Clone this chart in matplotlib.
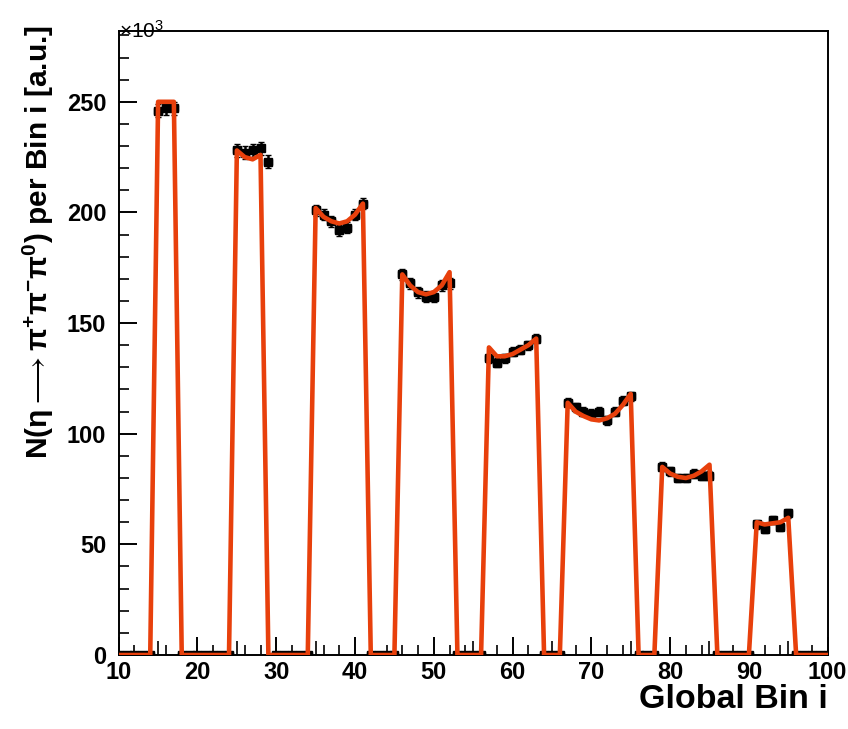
import numpy as np
import matplotlib
matplotlib.use("Agg")
from matplotlib import pyplot as plt
from matplotlib import ticker

# ---------------- data (values in units of 10^3) ----------------
bins = np.arange(10, 101)
block_start = [15, 25, 35, 46, 57, 67, 79, 91]
fit_values = [
    [250, 250, 250],
    [228, 225, 224, 226],
    [202, 198, 196, 195, 196, 199, 204],
    [172, 167, 164, 163, 164, 167, 173],
    [139, 135, 135, 136, 138, 140, 143],
    [114, 110, 108, 106.5, 106, 107, 109, 113, 118],
    [85, 82, 80.5, 80, 81, 83, 86],
    [60, 59, 59.5, 60, 62],
]
data_values = [
    [246, 247, 247],
    [228, 227, 228, 229, 223],
    [201, 199, 196, 192, 193, 199, 204],
    [172, 168, 164, 162, 162, 167, 168],
    [134, 132, 134, 137, 138, 140, 143],
    [114, 112, 110, 109, 110, 106, 110, 115, 117],
    [85, 83, 80, 80, 82, 81, 81],
    [59, 57, 61, 58, 64],
]
data_errors = [3, 3, 2.5, 2.5, 2, 2, 2, 2]

# build full histograms (zero outside the blocks)
fit = np.zeros(len(bins))
data = np.zeros(len(bins))
err = np.zeros(len(bins))
for start, fv, dv, e in zip(block_start, fit_values, data_values, data_errors):
    i0 = start - bins[0]
    fit[i0:i0 + len(fv)] = fv
    data[i0:i0 + len(dv)] = dv
    err[i0:i0 + len(dv)] = e

# ---------------- plot ----------------
plt.rcParams["font.family"] = ["Liberation Sans", "DejaVu Sans"]
plt.rcParams["mathtext.default"] = "regular"
plt.rcParams["xtick.direction"] = "in"
plt.rcParams["ytick.direction"] = "in"

fig = plt.figure(figsize=(8.48, 7.29), dpi=100)
ax = fig.add_axes([0.140, 0.1015, 0.836, 0.856])

ax.errorbar(bins, data, yerr=err, xerr=0.5, fmt='s', color='black', ms=6,
            elinewidth=1.8, capsize=2.5, zorder=2)
ax.plot(bins, fit, color='#E8400C', linewidth=3.3, zorder=3, solid_joinstyle='round')

ax.set_xlim(10, 100)
ax.set_ylim(0, 282)

ax.xaxis.set_major_locator(ticker.MultipleLocator(10))
ax.xaxis.set_minor_locator(ticker.MultipleLocator(2))
ax.yaxis.set_major_locator(ticker.MultipleLocator(50))
ax.yaxis.set_minor_locator(ticker.MultipleLocator(10))
ax.tick_params(which='major', length=13, width=1.4, labelsize=17)
ax.tick_params(which='minor', length=7, width=1.2)
ax.tick_params(axis='x', which='major', pad=4)
ax.tick_params(axis='y', which='major', pad=9)
for lab in ax.get_xticklabels() + ax.get_yticklabels():
    lab.set_fontweight('bold')

# medium ticks at the 5s, ROOT style
sec = ax.secondary_xaxis('bottom')
sec.set_xticks(np.arange(15, 100, 10))
sec.set_xticklabels([])
sec.tick_params(length=10, width=1.2, direction='in')
sec.spines['bottom'].set_visible(False)

for s in ax.spines.values():
    s.set_linewidth(1.4)

ax.set_xlabel('Global Bin i', fontsize=24.5, fontweight='bold', ha='right', va='top')
ax.xaxis.set_label_coords(1.0, -0.046)
ax.set_ylabel(r'N(η$\longrightarrow$π$^{+}$π$^{-}$π$^{0}$) per Bin i [a.u.]', fontsize=21.5,
              fontweight='bold', ha='right', va='center')
ax.yaxis.set_label_coords(-0.114, 1.01)
ax.text(0.0, 1.0, r'$\times$10$^{3}$', transform=ax.transAxes, fontsize=15,
        ha='left', va='center')

fig.savefig('out.png', dpi=100, facecolor='w')
plt.close('all')
